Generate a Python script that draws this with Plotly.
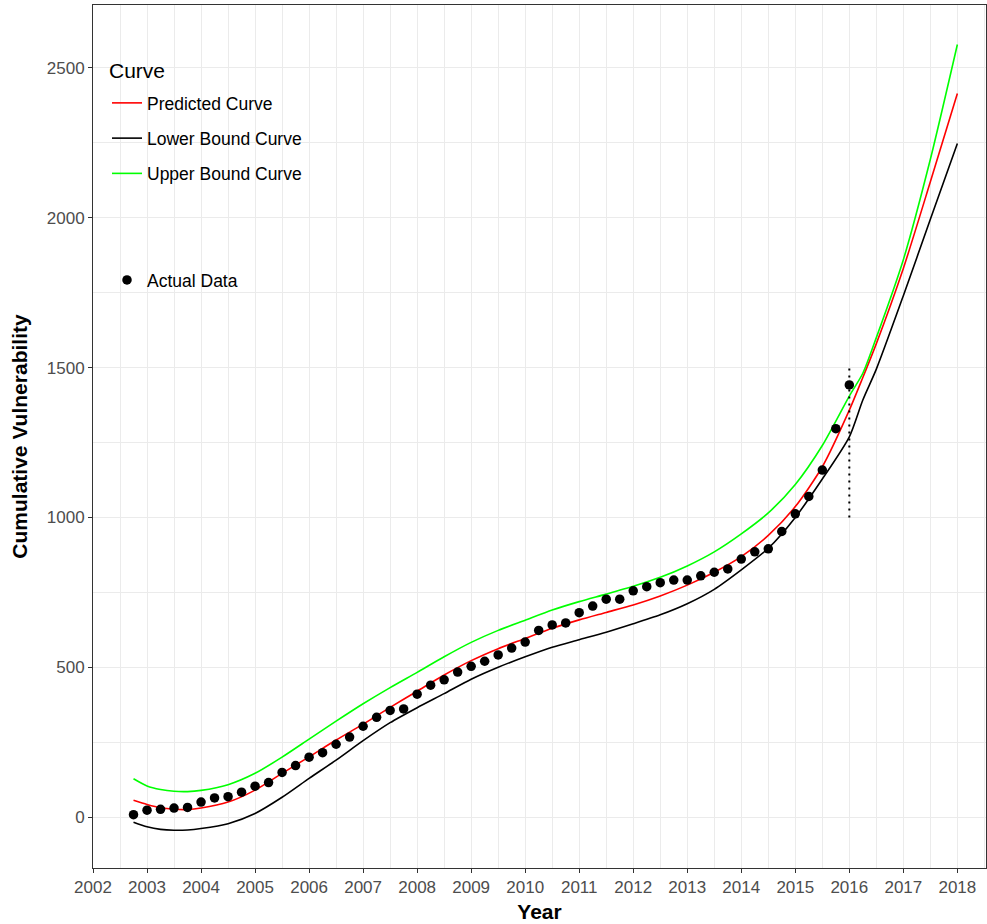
import plotly.graph_objects as go

# Observed cumulative vulnerability counts, quarterly
actual_years = [2002.75 + 0.25 * i for i in range(54)]
actual_values = [8, 23, 26, 30, 32, 50, 64, 68, 83, 103,
                 115, 149, 172, 200, 215, 243, 267, 303, 333, 356,
                 361, 410, 440, 458, 484, 503, 520, 541, 564, 584,
                 623, 641, 648, 682, 704, 727, 727, 755, 769, 782,
                 791, 791, 805, 817, 828, 861, 885, 895, 953, 1012,
                 1070, 1158, 1296, 1442]

# Fitted model curves
curve_years = [2002.75, 2003.0, 2003.25, 2003.5, 2003.75, 2004.0, 2004.5, 2005.0,
               2005.5, 2006.0, 2006.5, 2007.0, 2007.5, 2008.0, 2008.5, 2009.0,
               2009.5, 2010.0, 2010.5, 2011.0, 2011.5, 2012.0, 2012.5, 2013.0,
               2013.5, 2014.0, 2014.5, 2015.0, 2015.5, 2016.0, 2016.25, 2016.5,
               2017.0, 2017.5, 2018.0]
predicted = [56, 42, 31, 26, 25, 30, 50, 90,
             146, 201, 257, 310, 366, 420, 474, 522,
             562, 596, 630, 658, 683, 708, 738, 774,
             817, 869, 940, 1036, 1169, 1358, 1467, 1580,
             1831, 2120, 2415]
lower = [-17, -32, -41, -44, -43, -38, -22, 12,
         66, 129, 190, 255, 315, 365, 412, 460,
         500, 535, 567, 592, 617, 645, 675, 712,
         760, 825, 897, 1000, 1128, 1269, 1392, 1495,
         1740, 1995, 2248]
upper = [128, 104, 92, 86, 85, 89, 108, 146,
         200, 260, 320, 378, 432, 483, 535, 583,
         623, 657, 691, 719, 744, 770, 800, 838,
         885, 945, 1015, 1110, 1240, 1405, 1481, 1600,
         1860, 2195, 2578]

# Forecast start marker
cutoff_year = 2016
cutoff_span = [1000, 1500]

FONT = "Liberation Sans, Arial, sans-serif"

# plot area in pixels (figure 987 x 924)
PX_L, PX_R, PX_T, PX_B = 93, 986, 5, 868


def px_to_paper(x=None, y=None):
    if x is not None:
        return (x - PX_L) / (PX_R - PX_L)
    return (PX_B - y) / (PX_B - PX_T)


fig = go.Figure()

for name, vals, color in [("Predicted Curve", predicted, "#FF0000"),
                          ("Lower Bound Curve", lower, "#000000"),
                          ("Upper Bound Curve", upper, "#00FF00")]:
    fig.add_trace(go.Scatter(
        x=curve_years, y=vals, mode="lines", name=name,
        line=dict(color=color, width=1.6, shape="spline", smoothing=0.7),
        legend="legend", legendgroup=name,
    ))

fig.add_trace(go.Scatter(
    x=[cutoff_year, cutoff_year], y=cutoff_span, mode="lines",
    line=dict(color="black", width=2, dash="2px,5px"),
    showlegend=False, hoverinfo="skip",
))

fig.add_trace(go.Scatter(
    x=actual_years, y=actual_values, mode="markers", name="Actual Data",
    marker=dict(color="black", size=9.5),
    legend="legend2",
))

axis_common = dict(
    showline=True, linecolor="#333333", linewidth=1, mirror=True,
    ticks="outside", ticklen=4, tickcolor="#333333", tickwidth=1,
    showgrid=True, gridcolor="#EBEBEB", gridwidth=1.1,
    zeroline=False,
    tickfont=dict(family=FONT, size=17, color="#4D4D4D"),
)

# white key backgrounds behind the two legends
legend_boxes = [(93, 48, 320, 203), (93, 223, 251, 310)]
shapes = [
    dict(type="rect", xref="paper", yref="paper", layer="between",
         x0=px_to_paper(x=x0), x1=px_to_paper(x=x1),
         y0=px_to_paper(y=y1), y1=px_to_paper(y=y0),
         fillcolor="white", line=dict(width=0))
    for x0, y0, x1, y1 in legend_boxes
]

fig.update_layout(
    width=987, height=924,
    margin=dict(l=PX_L, r=987 - PX_R, t=PX_T, b=924 - PX_B),
    plot_bgcolor="white", paper_bgcolor="white",
    font=dict(family=FONT, color="black"),
    xaxis=dict(
        range=[2002, 2018.53], tick0=2002, dtick=1,
        minor=dict(dtick=0.5, showgrid=True, gridcolor="#EBEBEB", gridwidth=0.55),
        title=dict(text="<b>Year</b>", font=dict(family=FONT, size=21), standoff=7),
        **axis_common,
    ),
    yaxis=dict(
        range=[-170, 2710], tick0=0, dtick=500,
        minor=dict(dtick=250, showgrid=True, gridcolor="#EBEBEB", gridwidth=0.55),
        title=dict(text="<b>Cumulative Vulnerability</b>", font=dict(family=FONT, size=21), standoff=13),
        **axis_common,
    ),
    shapes=shapes,
    annotations=[dict(
        text="Curve", xref="paper", yref="paper",
        x=px_to_paper(x=107), y=px_to_paper(y=70),
        xanchor="left", yanchor="middle", showarrow=False,
        font=dict(family=FONT, size=21, color="black"),
    )],
    legend=dict(
        x=px_to_paper(x=107), y=px_to_paper(y=85), xanchor="left", yanchor="top",
        bgcolor="rgba(255,255,255,0)", borderwidth=0,
        font=dict(family=FONT, size=17.5, color="black"),
        traceorder="grouped", tracegroupgap=9.5,
    ),
    legend2=dict(
        x=px_to_paper(x=107), y=px_to_paper(y=262), xanchor="left", yanchor="top",
        bgcolor="rgba(255,255,255,0)", borderwidth=0,
        font=dict(family=FONT, size=17.5, color="black"),
    ),
)

fig.write_html("out.html")
